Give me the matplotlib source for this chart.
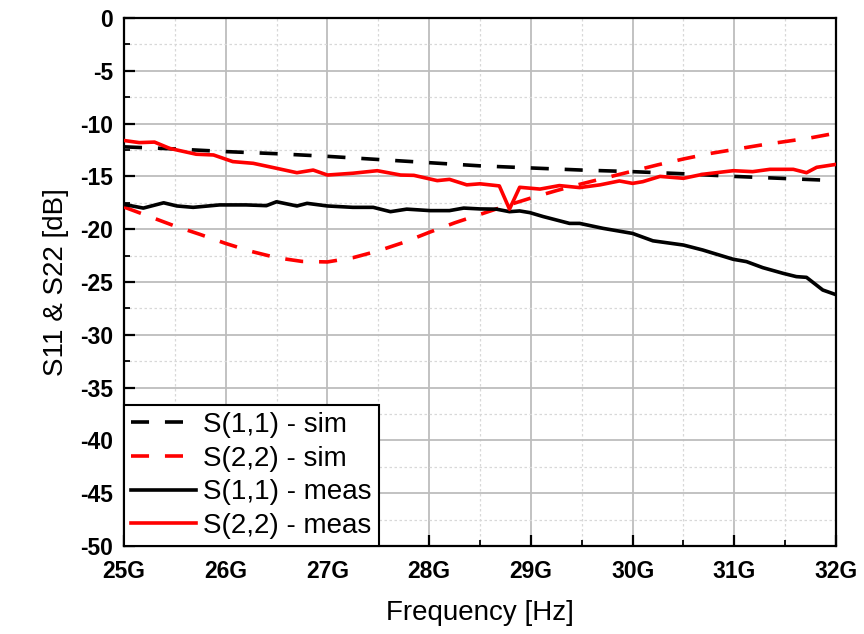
import matplotlib
matplotlib.use("Agg")
import matplotlib.pyplot as plt
from matplotlib.ticker import MultipleLocator, FuncFormatter

plt.rcParams['font.family'] = ['Liberation Sans', 'DejaVu Sans']

# Simulated S11 (GHz, dB)
f_s11_sim = [25.0, 25.5, 26.0, 26.5, 27.0, 27.5, 28.0, 28.5, 29.0, 29.5, 30.0, 30.5, 31.0, 31.5, 32.0]
s11_sim = [-12.2, -12.4, -12.65, -12.85, -13.1, -13.4, -13.7, -14.0, -14.2, -14.4, -14.55, -14.75, -15.0, -15.2, -15.4]

# Simulated S22
f_s22_sim = [25.0, 25.25, 25.5, 25.75, 26.0, 26.25, 26.5, 26.75, 27.0, 27.25, 27.5, 27.75, 28.0,
             28.25, 28.5, 28.75, 29.0, 29.25, 29.5, 29.75, 30.0, 30.25, 30.5, 30.75, 31.0, 31.25,
             31.5, 31.75, 32.0]
s22_sim = [-17.9, -18.8, -19.7, -20.5, -21.35, -22.1, -22.7, -23.05, -23.1, -22.7, -22.05, -21.25, -20.3,
           -19.4, -18.6, -17.8, -17.05, -16.35, -15.7, -15.1, -14.5, -13.9, -13.35, -12.85, -12.45, -12.05,
           -11.7, -11.35, -10.9]

# Measured S11
f_s11_meas = [25.0, 25.19, 25.39, 25.52, 25.68, 25.94, 26.2, 26.4, 26.5, 26.7, 26.8, 27.0, 27.25, 27.45,
              27.62, 27.78, 28.01, 28.2, 28.34, 28.5, 28.66, 28.79, 28.89, 28.99, 29.12, 29.38, 29.48,
              29.71, 30.0, 30.2, 30.5, 30.69, 30.99, 31.12, 31.28, 31.48, 31.61, 31.71, 31.87, 32.0]
s11_meas = [-17.65, -18.0, -17.5, -17.8, -17.93, -17.7, -17.7, -17.77, -17.4, -17.8, -17.55, -17.8, -17.93, -17.93,
            -18.34, -18.1, -18.24, -18.24, -18.0, -18.08, -18.1, -18.34, -18.27, -18.43, -18.8, -19.45, -19.45,
            -19.92, -20.4, -21.1, -21.5, -21.97, -22.85, -23.07, -23.64, -24.18, -24.49, -24.56, -25.76, -26.2]

# Measured S22
f_s22_meas = [25.0, 25.15, 25.3, 25.45, 25.71, 25.88, 26.07, 26.27, 26.47, 26.7, 26.86, 27.0, 27.25, 27.49,
              27.72, 27.85, 28.08, 28.2, 28.37, 28.5, 28.69, 28.79, 28.89, 29.09, 29.28, 29.48, 29.68,
              29.87, 30.0, 30.1, 30.27, 30.5, 30.69, 30.99, 31.18, 31.35, 31.58, 31.71, 31.81, 32.0]
s22_meas = [-11.6, -11.8, -11.75, -12.35, -12.9, -12.97, -13.6, -13.76, -14.17, -14.65, -14.4, -14.87, -14.7, -14.46,
            -14.87, -14.9, -15.4, -15.28, -15.8, -15.7, -15.9, -18.1, -16.03, -16.2, -15.87, -16.06, -15.8,
            -15.43, -15.66, -15.5, -15.0, -15.18, -14.8, -14.46, -14.55, -14.33, -14.33, -14.65, -14.14, -13.86]

fig = plt.figure(figsize=(8.64, 6.34), dpi=100)
ax = fig.add_axes([0.1435, 0.1388, 0.8241, 0.8328])

lw = 2.6
dash = (5.0, 4.4)
ax.plot(f_s11_sim, s11_sim, color='black', lw=lw, dashes=dash, label='S(1,1) - sim', zorder=3)
ax.plot(f_s22_sim, s22_sim, color='red', lw=lw, dashes=dash, label='S(2,2) - sim', zorder=3)
ax.plot(f_s11_meas, s11_meas, color='black', lw=lw, label='S(1,1) - meas', zorder=4)
ax.plot(f_s22_meas, s22_meas, color='red', lw=lw, label='S(2,2) - meas', zorder=4)

ax.set_xlim(25, 32)
ax.set_ylim(-50, 0)
ax.xaxis.set_major_locator(MultipleLocator(1))
ax.xaxis.set_minor_locator(MultipleLocator(0.5))
ax.yaxis.set_major_locator(MultipleLocator(5))
ax.yaxis.set_minor_locator(MultipleLocator(2.5))
ax.xaxis.set_major_formatter(FuncFormatter(lambda v, p: f"{int(round(v))}G"))
ax.yaxis.set_major_formatter(FuncFormatter(lambda v, p: f"{int(round(v))}"))

ax.grid(which='major', color='#bdbdbd', lw=1.3, ls='-', zorder=0)
ax.grid(which='minor', color='#d8d8d8', lw=0.9, ls=(0, (2, 2)), zorder=0)

ax.tick_params(which='major', direction='in', length=8, width=1.6, labelsize=16.5)
ax.tick_params(which='minor', direction='in', length=4.5, width=1.3)
ax.tick_params(axis='both', which='both', top=False, right=False)
ax.tick_params(axis='x', which='major', pad=10)
ax.tick_params(axis='y', which='major', pad=8)
for lab in ax.get_xticklabels() + ax.get_yticklabels():
    lab.set_fontweight('bold')
for sp in ax.spines.values():
    sp.set_linewidth(1.6)

ax.set_xlabel('Frequency [Hz]', fontsize=20, labelpad=12)
ax.set_ylabel('S11 & S22 [dB]', fontsize=20, labelpad=8)

leg = ax.legend(loc='lower left', borderaxespad=0, fontsize=20, frameon=True, fancybox=False,
                edgecolor='black', framealpha=1, handlelength=2.35, handletextpad=0.25,
                labelspacing=0.28, borderpad=0.25)
leg.get_frame().set_linewidth(1.5)

fig.savefig('out.png', dpi=100)
